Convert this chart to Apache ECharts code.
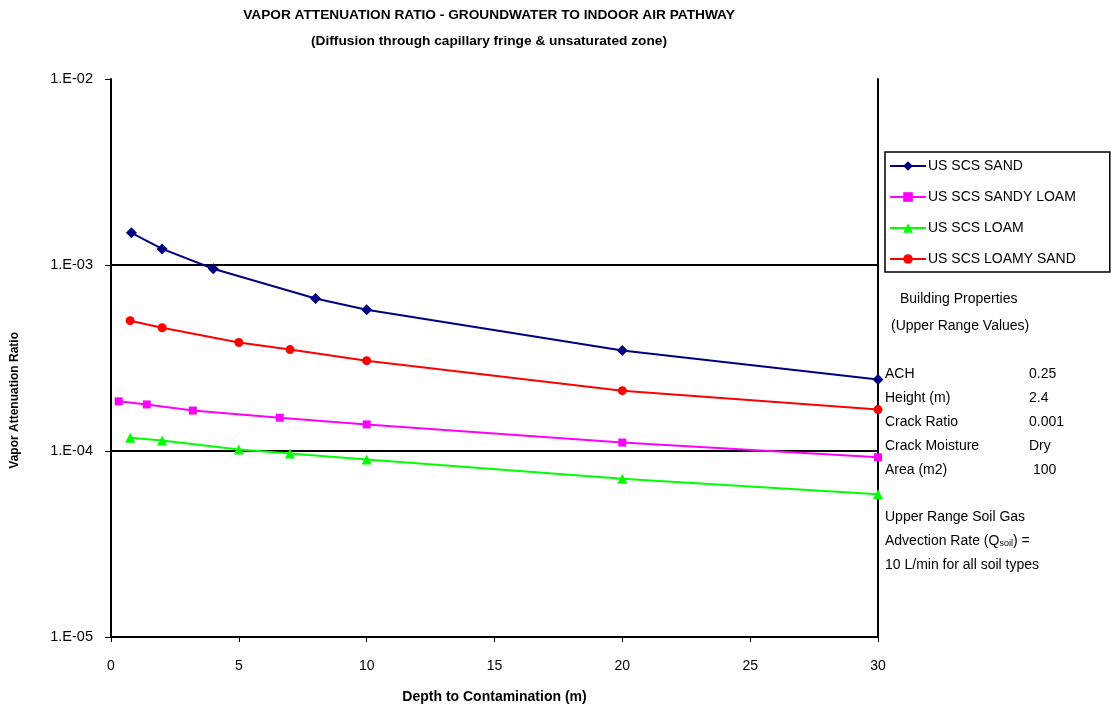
<html>
<head>
  <meta charset="UTF-8">
  <title>Vapor Attenuation Ratio</title>
  <style>
    body { margin: 0; background: #fff; }
    #chart { width: 1117px; height: 713px; }
  </style>
</head>
<body>
  <div id="chart"></div>
  <script src="https://cdn.jsdelivr.net/npm/echarts@6/dist/echarts.min.js"></script>
  <script>
    // depth (m) and attenuation ratio
    const sandX = [0.8, 2, 4, 8, 10, 20, 30]
    const sandY = [1.49e-3, 1.22e-3, 9.55e-4, 6.6e-4, 5.75e-4, 3.47e-4, 2.42e-4]
    const sandyLoamX = [0.3, 1.4, 3.2, 6.6, 10, 20, 30]
    const sandyLoamY = [1.85e-4, 1.78e-4, 1.65e-4, 1.51e-4, 1.39e-4, 1.11e-4, 9.25e-5]
    const loamX = [0.75, 2, 5, 7, 10, 20, 30]
    const loamY = [1.18e-4, 1.14e-4, 1.02e-4, 9.7e-5, 9.0e-5, 7.1e-5, 5.85e-5]
    const loamySandX = [0.75, 2, 5, 7, 10, 20, 30]
    const loamySandY = [5.02e-4, 4.6e-4, 3.83e-4, 3.51e-4, 3.06e-4, 2.11e-4, 1.67e-4]

    const seriesNames = ['US SCS SAND', 'US SCS SANDY LOAM', 'US SCS LOAM', 'US SCS LOAMY SAND']
    const seriesColors = ['#000080', '#ff00ff', '#00ff00', '#ff0000']
    const seriesSymbols = ['diamond', 'rect', 'triangle', 'circle']
    const symbolSizes = [11, 8, 10, 9]

    const notes = [
      ['ACH', '0.25'],
      ['Height (m)', '2.4'],
      ['Crack Ratio', '0.001'],
      ['Crack Moisture', 'Dry'],
      ['Area (m2)', ' 100']
    ]

    function pairs(xs, ys) {
      return xs.map((x, i) => [x, ys[i]])
    }
    const allData = [
      pairs(sandX, sandY),
      pairs(sandyLoamX, sandyLoamY),
      pairs(loamX, loamY),
      pairs(loamySandX, loamySandY)
    ]

    const font = 'Liberation Sans, Arial, sans-serif'
    const chart = echarts.init(document.getElementById('chart'))

    const graphics = [
      { type: 'text', left: 900, top: 292, style: { text: 'Building Properties', font: '14px ' + font, fill: '#000' } },
      { type: 'text', left: 891, top: 319, style: { text: '(Upper Range Values)', font: '14px ' + font, fill: '#000' } },
      { type: 'text', left: 885, top: 510, style: { text: 'Upper Range Soil Gas', font: '14px ' + font, fill: '#000' } },
      {
        type: 'text', left: 885, top: 534,
        style: {
          text: '{a|Advection Rate (Q}{s|soil}{a|) =}',
          rich: { a: { font: '14px ' + font, fill: '#000' }, s: { font: '9px ' + font, fill: '#000', verticalAlign: 'bottom', padding: [6, 0, 0, 0] } }
        }
      },
      { type: 'text', left: 885, top: 558, style: { text: '10 L/min for all soil types', font: '14px ' + font, fill: '#000' } }
    ]
    notes.forEach((n, i) => {
      graphics.push({ type: 'text', left: 885, top: 367 + i * 24, style: { text: n[0], font: '14px ' + font, fill: '#000' } })
      graphics.push({ type: 'text', left: 1029, top: 367 + i * 24, style: { text: n[1], font: '14px ' + font, fill: '#000' } })
    })
    graphics.push({
      type: 'text', left: 9, top: 332, rotation: Math.PI / 2,
      style: { text: 'Vapor Attenuation Ratio', font: 'bold 12px ' + font, fill: '#000' }
    })

    const clear = 'rgba(0,0,0,0)'

    const option = {
      animation: false,
      backgroundColor: '#fff',
      title: {
        text: 'VAPOR ATTENUATION RATIO - GROUNDWATER TO INDOOR AIR PATHWAY\n(Diffusion through capillary fringe & unsaturated zone)',
        left: 484,
        textAlign: 'center',
        top: -3,
        textStyle: { fontFamily: font, fontSize: 13.7, fontWeight: 'bold', color: '#000', lineHeight: 26 }
      },
      grid: { left: 111, right: 239, top: 79, bottom: 76 },
      legend: {
        orient: 'vertical',
        left: 885,
        top: 152,
        padding: [7, 34, 6, 4],
        itemGap: 17,
        itemWidth: 36,
        itemHeight: 12,
        borderColor: '#000',
        borderWidth: 1.5,
        data: seriesNames,
        textStyle: { fontFamily: font, fontSize: 14, color: '#000', padding: [0, 0, 0, -3] }
      },
      xAxis: {
        type: 'value',
        min: 0,
        max: 30,
        interval: 5,
        name: 'Depth to Contamination (m)',
        nameLocation: 'middle',
        nameGap: 53,
        nameTextStyle: { fontFamily: font, fontSize: 14, fontWeight: 'bold', color: '#000' },
        axisLine: { lineStyle: { color: '#000', width: 2 } },
        axisTick: { show: true, inside: false, length: 5, lineStyle: { color: '#000', width: 1 } },
        axisLabel: { fontFamily: font, fontSize: 14, color: '#000', margin: 22 },
        splitLine: { show: false }
      },
      yAxis: [
        {
          type: 'log',
          logBase: 10,
          min: 1e-5,
          max: 1e-2,
          axisLine: { show: true, lineStyle: { color: '#000', width: 2 } },
          axisTick: { show: true, inside: false, length: 6, lineStyle: { color: '#000', width: 1 } },
          axisLabel: {
            fontFamily: font, fontSize: 14.5, color: '#000', margin: 18,
            formatter: v => '1.E-' + String(Math.round(-Math.log10(v))).padStart(2, '0')
          },
          // the top (1E-02) line is not drawn in the original
          splitLine: { show: true, lineStyle: { color: ['#000', '#000', '#000', clear, clear, clear], width: 2 } }
        },
        {
          type: 'value',
          position: 'right',
          min: 0,
          max: 1,
          axisLine: { show: true, lineStyle: { color: '#000', width: 2 } },
          axisTick: { show: false },
          axisLabel: { show: false },
          splitLine: { show: false }
        }
      ],
      graphic: graphics,
      series: seriesNames.map((name, i) => ({
        name: name,
        type: 'line',
        yAxisIndex: 0,
        data: allData[i],
        symbol: seriesSymbols[i],
        symbolSize: symbolSizes[i],
        showAllSymbol: true,
        lineStyle: { color: seriesColors[i], width: 2 },
        itemStyle: { color: seriesColors[i] },
        z: 3
      }))
    }
    chart.setOption(option)
  </script>
</body>
</html>
